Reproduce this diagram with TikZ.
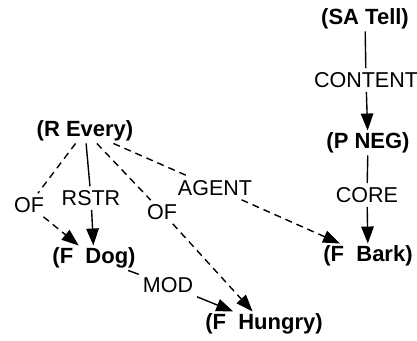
\documentclass[tikz,border=0pt]{standalone}
\usepackage{fontspec}
\setmainfont{Liberation Sans}
\usetikzlibrary{arrows.meta}
\begin{document}
\begin{tikzpicture}[x=1pt,y=-1pt,
  term/.style={font=\fontsize{22}{26}\selectfont\bfseries, inner sep=2pt},
  role/.style={font=\fontsize{21.5}{25}\selectfont, inner sep=4pt},
  link/.style={line width=1.4pt},
  dlink/.style={link, dash pattern=on 7pt off 5pt},
  tip/.style={-{Triangle[length=17pt,width=12.5pt]}}]
  \useasboundingbox (0,0) rectangle (417,340);

  % concept nodes
  \node[term] (every)  at (85,131)  {(R Every)};
  \node[term] (dog)    at (94,258)  {(F\ \ Dog)};
  \node[term] (hungry) at (264,324) {(F\ \ Hungry)};
  \node[term] (tell)   at (365,19)  {(SA Tell)};
  \node[term] (neg)    at (368,143) {(P NEG)};
  \node[term] (bark)   at (368,256) {(F\ \ Bark)};

  % relation labels
  \node[role] (of1)     at (29,205)  {OF};
  \node[role] (rstr)    at (91,198)  {RSTR};
  \node[role] (of2)     at (162,212) {OF};
  \node[role] (agent)   at (215,188) {AGENT};
  \node[role] (mod)     at (168,285) {MOD};
  \node[role] (content) at (366,80)  {CONTENT};
  \node[role] (core)    at (367,195) {CORE};

  % connectors, each passing through its label
  \draw[dlink] (every) -- (of1);
  \draw[dlink,tip] (of1) -- (dog);
  \draw[link] (every) -- (rstr);
  \draw[link,tip] (rstr) -- (dog);
  \draw[dlink] (every) -- (of2);
  \draw[dlink,tip] (of2) -- (hungry);
  \draw[dlink] (every) -- (agent);
  \draw[dlink,tip] (agent) -- (bark);
  \draw[link] (dog) -- (mod);
  \draw[link,tip] (mod) -- (hungry);
  \draw[link] (tell) -- (content);
  \draw[link,tip] (content) -- (neg);
  \draw[link] (neg) -- (core);
  \draw[link,tip] (core) -- (bark);
\end{tikzpicture}
\end{document}
